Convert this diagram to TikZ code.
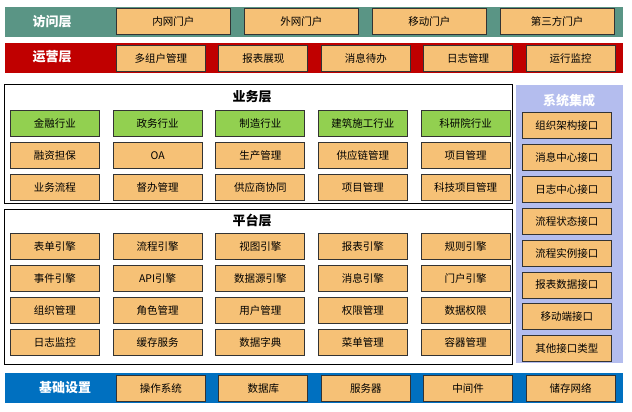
\documentclass[tikz,border=0pt]{standalone}
\usepackage{fontspec}
\setmainfont{Noto Sans CJK SC}
\usepackage{xcolor}
\usepackage{tikz}
\usetikzlibrary{positioning}

\definecolor{accessteal}{HTML}{5A9585}
\definecolor{opsred}{HTML}{C00000}
\definecolor{baseblue}{HTML}{0070C0}
\definecolor{integlav}{HTML}{B4BDEE}
\definecolor{itemorange}{HTML}{F6C176}
\definecolor{indgreen}{HTML}{92D050}

\begin{document}
\begin{tikzpicture}[
      x=1pt, y=-1pt,
      band/.style={
          draw=none, rectangle, anchor=north west,
          minimum width=618pt, minimum height=30pt,
          inner sep=0pt
        },
      bandlab/.style={
          font=\fontsize{13}{15}\selectfont\bfseries,
          text=white
        },
      layer/.style={
          draw=black, rectangle, anchor=north west,
          fill=white, inner sep=0pt, line width=1pt
        },
      laytitle/.style={
          font=\fontsize{13}{15}\selectfont\bfseries
        },
      item/.style={
          draw=black!80, rectangle, fill=itemorange,
          minimum width=89pt, minimum height=26pt,
          inner sep=0pt, font=\fontsize{10.5}{12}\selectfont,
          line width=0.9pt
        },
      wideitem/.style={item, minimum width=114pt},
      indbox/.style={item, fill=indgreen}
    ]

    \useasboundingbox (0,0) rectangle (632,412);

    % ── Access layer ──
    \node[band, fill=accessteal] (accband) at (5,7) {};
    \node[bandlab] (acclab) at (52,22) {访问层};
    \node[wideitem, anchor=north west] (intra) at (116,8) {内网门户};
    \node[wideitem, right=13pt of intra]  (extra)  {外网门户};
    \node[wideitem, right=13pt of extra]  (mobp)   {移动门户};
    \node[wideitem, right=13pt of mobp]   (third)  {第三方门户};

    % ── Operations layer ──
    \node[band, fill=opsred] (opsband) at (5,43) {};
    \node[bandlab] (opslab) at (52,57) {运营层};
    \node[item, anchor=north west] (tenant) at (116,45) {多组户管理};
    \node[item, right=12.5pt of tenant] (report) {报表展现};
    \node[item, right=12.5pt of report] (todo)   {消息待办};
    \node[item, right=12.5pt of todo]   (logm)   {日志管理};
    \node[item, right=12.5pt of logm]   (runmon) {运行监控};

    % ── Business layer ──
    \node[layer, minimum width=508pt, minimum height=119pt] (bizlayer) at (4,84) {};
    \node[laytitle] (biztitle) at (252,97) {业务层};

    \node[indbox, anchor=north west] (fin) at (10,110) {金融行业};
    \node[indbox, right=12.75pt of fin] (gov) {政务行业};
    \node[indbox, right=12.75pt of gov] (mfg) {制造行业};
    \node[indbox, right=12.75pt of mfg] (con) {建筑施工行业};
    \node[indbox, right=12.75pt of con] (res) {科研院行业};

    \node[item, below=5pt of fin] (loan)  {融资担保};
    \node[item, below=5pt of gov] (oa)    {OA};
    \node[item, below=5pt of mfg] (prod)  {生产管理};
    \node[item, below=5pt of con] (scm)   {供应链管理};
    \node[item, below=5pt of res] (proj)  {项目管理};

    \node[item, below=5pt of loan] (bflow)  {业务流程};
    \node[item, below=5pt of oa]   (super)  {督办管理};
    \node[item, below=5pt of prod] (supco)  {供应商协同};
    \node[item, below=5pt of scm]  (projb)  {项目管理};
    \node[item, below=5pt of proj] (techp)  {科技项目管理};

    % ── Platform layer ──
    \node[layer, minimum width=508pt, minimum height=155pt] (platlayer) at (4,209) {};
    \node[laytitle] (plattitle) at (252,220) {平台层};

    \node[item, anchor=north west] (formeng) at (10,233) {表单引擎};
    \node[item, right=12.75pt of formeng] (floweng) {流程引擎};
    \node[item, right=12.75pt of floweng] (vieweng) {视图引擎};
    \node[item, right=12.75pt of vieweng] (repeng)  {报表引擎};
    \node[item, right=12.75pt of repeng]  (ruleeng) {规则引擎};

    \node[item, below=5pt of formeng] (eventeng) {事件引擎};
    \node[item, below=5pt of floweng] (apieng)   {API引擎};
    \node[item, below=5pt of vieweng] (dseng)    {数据源引擎};
    \node[item, below=5pt of repeng]  (msgeng)   {消息引擎};
    \node[item, below=5pt of ruleeng] (porteng)  {门户引擎};

    \node[item, below=5pt of eventeng] (orgm)   {组织管理};
    \node[item, below=5pt of apieng]   (rolem)  {角色管理};
    \node[item, below=5pt of dseng]    (userm)  {用户管理};
    \node[item, below=5pt of msgeng]   (permm)  {权限管理};
    \node[item, below=5pt of porteng]  (dperm)  {数据权限};

    \node[item, below=5pt of orgm]  (logmon) {日志监控};
    \node[item, below=5pt of rolem] (cache)  {缓存服务};
    \node[item, below=5pt of userm] (dict)   {数据字典};
    \node[item, below=5pt of permm] (menum)  {菜单管理};
    \node[item, below=5pt of dperm] (contm)  {容器管理};

    % ── System integration (right side) ──
    \node[band, fill=integlav, minimum width=107pt, minimum height=278pt] (integband) at (516,85) {};
    \node[bandlab] (integtitle) at (569,101) {系统集成};

    \node[item, anchor=north west] (orgapi) at (522,112) {组织架构接口};
    \node[item, below=5pt of orgapi]  (msgapi)   {消息中心接口};
    \node[item, below=5pt of msgapi]  (logapi)   {日志中心接口};
    \node[item, below=5pt of logapi]  (stateapi) {流程状态接口};
    \node[item, below=5pt of stateapi] (instapi) {流程实例接口};
    \node[item, below=5pt of instapi] (repapi)   {报表数据接口};
    \node[item, below=5pt of repapi]  (mobapi)   {移动端接口};
    \node[item, below=5pt of mobapi]  (otherapi) {其他接口类型};

    % ── Base layer ──
    \node[band, fill=baseblue] (baseband) at (5,373) {};
    \node[bandlab] (baselab) at (65,388) {基础设置};
    \node[item, anchor=north west] (os) at (116,375) {操作系统};
    \node[item, right=12.5pt of os]   (db)     {数据库};
    \node[item, right=12.5pt of db]   (server) {服务器};
    \node[item, right=12.5pt of server] (mid)  {中间件};
    \node[item, right=12.5pt of mid]  (stor)   {储存网络};

  \end{tikzpicture}
\end{document}
